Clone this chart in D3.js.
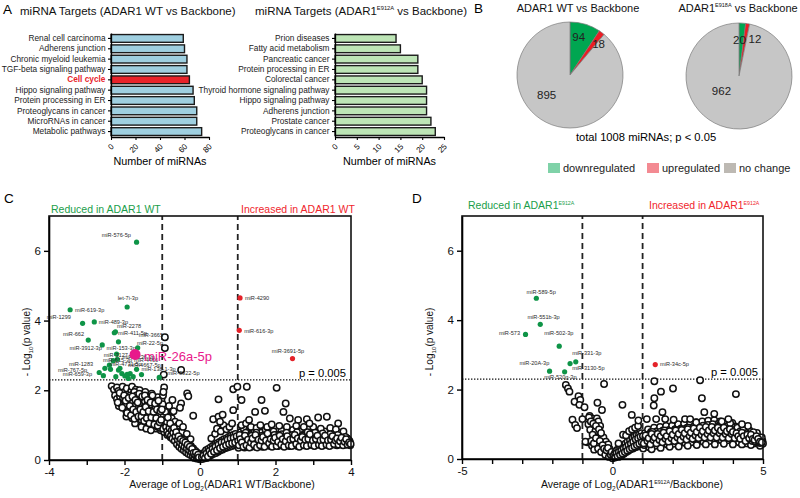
<!DOCTYPE html>
<html><head><meta charset="utf-8">
<script src="https://cdn.jsdelivr.net/npm/d3@7"></script>
<style>body{margin:0;background:#fff}svg{font-family:"Liberation Sans",Arial,Helvetica,sans-serif}</style>
</head><body><svg id="c" width="800" height="498"></svg>
<script>
// ---------- DATA ----------
const wtPathways = ["Renal cell carcinoma","Adherens junction","Chronic myeloid leukemia","TGF-beta signaling pathway","Cell cycle","Hippo signaling pathway","Protein processing in ER","Proteoglycans in cancer","MicroRNAs in cancer","Metabolic pathways"];
const wtCounts = [59,60,62,62,64,67,68,70,70,74];
const wtHighlight = "Cell cycle";
const wtTicks = [0,20,40,60,80];
const mutPathways = ["Prion diseases","Fatty acid metabolism","Pancreatic cancer","Protein processing in ER","Colorectal cancer","Thyroid hormone signaling pathway","Hippo signaling pathway","Adherens junction","Prostate cancer","Proteoglycans in cancer"];
const mutCounts = [14,15,19,19,20,21,21,21,22,23];
const mutTicks = [0,5,10,15,20,25];

const pieCategories = ["downregulated","upregulated","no change"];
const pieWT = [94,18,895];
const pieMut = [20,12,962];

const openC = [[-2.34,2.12],[-2.28,2.02],[-2.2,2.08],[-2.16,1.98],[-2.1,1.9],[-2.05,2.1],[-2.0,1.95],[-1.97,1.82],[-1.94,2.05],[-1.9,1.88],[-1.86,1.75],[-1.82,1.98],[-1.8,2.1],[-1.76,1.9],[-1.72,1.78],[-1.7,2.02],[-1.66,1.92],[-1.62,1.82],[-1.6,2.0],[-1.56,1.7],[-1.52,1.88],[-1.48,1.78],[-1.45,1.95],[-1.42,1.65],[-1.38,1.82],[-1.35,1.72],[-1.3,1.6],[-1.28,1.9],[-1.24,1.75],[-1.2,1.55],[-1.16,1.68],[-1.12,1.8],[-1.08,1.5],[-1.05,1.62],[-1.02,1.72],[-0.98,1.85],[-0.95,2.08],[-0.97,1.95],
[-2.02,1.62],[-1.98,1.52],[-1.95,1.4],[-1.9,1.55],[-1.88,1.3],[-1.85,1.45],[-1.82,1.6],[-1.8,1.2],[-1.78,1.35],[-1.75,1.5],[-1.73,1.65],[-1.7,1.15],[-1.68,1.28],[-1.66,1.42],[-1.64,1.56],[-1.6,1.1],[-1.58,1.22],[-1.56,1.35],[-1.54,1.48],[-1.5,1.6],[-1.5,1.05],[-1.47,1.18],[-1.45,1.3],[-1.43,1.42],[-1.4,1.55],[-1.38,1.0],[-1.36,1.12],[-1.34,1.25],[-1.32,1.38],[-1.3,1.48],[-1.27,0.95],[-1.25,1.05],[-1.23,1.18],[-1.21,1.3],[-1.19,1.42],[-1.15,0.9],[-1.13,1.0],[-1.11,1.12],[-1.09,1.25],[-1.07,1.38],[-1.04,0.85],[-1.02,0.98],[-1.0,1.1],[-1.0,1.22],[-0.99,1.35],[-0.97,1.45],[-1.62,1.7],[-1.9,1.65],[-2.1,1.7],[-2.15,1.55],[-1.95,1.25],[-1.72,1.05],[-1.55,0.95],[-1.42,0.9],[-1.3,0.85],
[-0.95,0.8],[-0.93,0.92],[-0.92,1.05],[-0.9,1.18],[-0.88,1.3],[-0.86,0.72],[-0.85,0.85],[-0.83,0.98],[-0.81,1.1],[-0.8,1.22],[-0.78,0.65],[-0.76,0.78],[-0.74,0.9],[-0.72,1.02],[-0.7,0.58],[-0.68,0.7],[-0.66,0.82],[-0.64,0.95],[-0.62,0.5],[-0.6,0.62],[-0.58,0.75],[-0.56,0.88],[-0.54,0.42],[-0.52,0.55],[-0.5,0.68],[-0.48,0.8],[-0.46,0.36],[-0.44,0.48],[-0.42,0.6],[-0.4,0.3],[-0.38,0.42],[-0.36,0.54],[-0.34,0.25],[-0.32,0.36],[-0.3,0.47],[-0.28,0.2],[-0.26,0.3],[-0.24,0.4],[-0.22,0.15],[-0.2,0.24],[-0.18,0.33],[-0.16,0.1],[-0.14,0.18],[-0.12,0.26],[-0.1,0.07],[-0.08,0.14],[-0.06,0.2],[-0.04,0.04],[-0.02,0.1],[0.0,0.02],[-0.88,1.45],[-0.82,1.55],[-0.75,1.2],[-0.7,1.4],[-0.66,1.1],[-0.6,0.98],[-0.55,1.05],[-0.5,1.62],[-0.45,0.95],[-0.73,1.72],[-0.53,1.5],[-0.34,1.91],[-0.31,1.83],[-0.18,1.27],[-0.5,2.58],[-0.35,0.75],[-0.25,0.6],[-0.93,3.52],[-0.93,3.21],[-0.96,2.45],
[0.02,0.05],[0.04,0.12],[0.06,0.03],[0.08,0.18],[0.1,0.08],[0.12,0.22],[0.14,0.12],[0.16,0.28],[0.18,0.06],[0.2,0.16],[0.22,0.32],[0.24,0.1],[0.26,0.22],[0.28,0.36],[0.3,0.14],[0.32,0.26],[0.34,0.4],[0.36,0.18],[0.38,0.3],[0.4,0.44],[0.42,0.2],[0.44,0.34],[0.46,0.48],[0.48,0.24],[0.5,0.38],[0.52,0.52],[0.54,0.28],[0.56,0.42],[0.58,0.56],[0.6,0.3],[0.62,0.45],[0.64,0.6],[0.66,0.34],[0.68,0.48],[0.7,0.62],[0.72,0.36],[0.74,0.52],[0.76,0.66],[0.78,0.38],[0.8,0.54],[0.82,0.7],[0.84,0.4],[0.86,0.56],[0.88,0.72],[0.9,0.42],[0.92,0.58],[0.94,0.75],[0.96,0.44],[0.98,0.6],[0.3,0.62],[0.4,0.75],[0.45,0.9],[0.55,0.82],[0.62,1.0],[0.7,0.88],[0.78,0.95],[0.85,1.05],[0.35,1.17],[0.49,1.24],[0.53,1.1],[0.49,1.74],[0.88,1.43],[0.88,2.03],[0.99,2.1],
[1.02,0.35],[1.04,0.5],[1.06,0.65],[1.08,0.8],[1.1,0.42],[1.12,0.58],[1.14,0.72],[1.16,0.9],[1.18,0.36],[1.2,0.5],[1.22,0.66],[1.25,0.8],[1.28,0.44],[1.3,0.6],[1.33,0.74],[1.36,0.38],[1.38,0.52],[1.41,0.68],[1.44,0.84],[1.47,0.4],[1.5,0.56],[1.53,0.7],[1.56,0.46],[1.59,0.62],[1.62,0.78],[1.65,0.38],[1.68,0.54],[1.71,0.68],[1.74,0.86],[1.77,0.44],[1.8,0.6],[1.83,0.74],[1.86,0.4],[1.89,0.52],[1.92,0.66],[1.95,0.82],[1.98,0.45],[2.01,0.58],[2.04,0.72],[2.07,0.4],[2.1,0.55],[2.13,0.68],[2.16,0.84],[2.19,0.42],[2.22,0.56],[2.25,0.7],[2.28,0.46],[2.31,0.6],[2.34,0.76],[2.37,0.4],[2.4,0.52],[2.43,0.66],[2.46,0.86],[2.49,0.44],[2.52,0.58],[2.55,0.72],[2.58,0.4],[2.61,0.54],[2.64,0.68],[2.67,0.82],[2.7,0.45],[2.73,0.6],[2.76,0.74],[2.79,0.42],[2.82,0.56],[2.85,0.7],[2.88,0.9],[2.91,0.44],[2.94,0.58],[2.97,0.72],[3.0,0.42],[3.03,0.55],[3.06,0.68],[3.09,0.84],[3.12,0.45],[3.15,0.58],[3.18,0.72],[3.21,0.42],[3.24,0.55],[3.27,0.68],[3.3,0.82],[3.33,0.44],[3.36,0.58],[3.39,0.7],[3.42,0.42],[3.45,0.55],[3.48,0.66],[3.51,0.8],[3.54,0.44],[3.57,0.56],[3.6,0.68],[3.63,0.42],[3.66,0.54],[3.69,0.64],[3.72,0.78],[3.75,0.45],[3.78,0.56],[3.81,0.66],[3.84,0.44],[3.87,0.54],[3.9,0.62],[3.93,0.45],[3.96,0.55],[3.98,0.42],
[1.1,1.72],[1.63,1.72],[1.24,2.1],[2.03,2.07],[1.46,1.38],[1.72,1.41],[2.21,1.38],[2.27,1.62],[2.38,1.19],[2.6,1.15],[2.83,1.17],[3.13,1.22],[3.36,1.24],[3.66,1.05],[3.89,0.62],[1.1,1.0],[1.22,1.05],[1.35,0.95],[1.5,0.92],[1.6,1.0],[1.78,0.95],[1.9,1.02],[2.1,0.98],[2.3,0.95],[2.55,0.98],[2.75,0.95],[3.0,0.95],[3.2,0.9],[3.45,0.92],[3.6,0.88],[3.8,0.82],[0.6,1.3],[1.3,1.15],[2.9,1.05],
[-2.25,1.85],[-2.2,1.75],[-2.12,1.82],[-2.08,1.6],[-2.04,1.78],[-1.99,1.68],[-1.96,1.58],[-1.92,1.72],[-1.88,1.45],[-1.84,1.85],[-1.82,1.38],[-1.78,1.68],[-1.76,1.25],[-1.74,1.95],[-1.7,1.58],[-1.68,1.85],[-1.66,1.2],[-1.63,1.48],[-1.61,1.35],[-1.59,1.78],[-1.57,1.6],[-1.55,1.15],[-1.53,1.42],[-1.51,1.75],[-1.49,1.28],[-1.47,1.52],[-1.46,1.68],[-1.44,1.12],[-1.41,1.35],[-1.39,1.6],[-1.37,1.48],[-1.35,1.2],[-1.33,1.72],[-1.31,1.08],[-1.29,1.32],[-1.27,1.55],[-1.26,1.42],[-1.24,1.65],[-1.22,1.1],[-1.2,1.25],[-1.18,1.5],[-1.17,1.0],[-1.15,1.35],[-1.13,1.6],[-1.11,0.95],[-1.1,1.45],[-1.08,1.15],[-1.06,1.3],[-1.05,0.92],[-1.03,1.5],[-1.01,1.05],[-0.99,1.6],[-0.98,0.9],[-0.96,1.28],[-0.94,1.15],[-0.92,1.38],[-0.9,0.95],[-0.88,1.1],[-0.87,0.82],[-0.85,1.22],[-0.83,0.75],[-0.81,0.92],[-0.79,1.05],[-0.77,0.7],[-0.75,0.85],[-0.73,0.62],[-0.71,0.78],[-0.69,0.92],[-0.67,0.55],[-0.65,0.68],[-0.63,0.8],[-0.61,0.45],[-0.59,0.58],[-0.57,0.68],[-0.55,0.38],[-0.53,0.5],[-0.51,0.6],[-0.49,0.32],[-0.47,0.44],[-0.45,0.55],[-0.43,0.28],[-0.41,0.38],[-0.39,0.5],[-0.37,0.22],[-0.35,0.34],[-0.33,0.44],[-0.31,0.18],[-0.29,0.28],[-0.27,0.38],[-0.25,0.14],[-0.23,0.24],[-0.21,0.32],[-0.19,0.1],[-0.17,0.2],[-0.15,0.06],[-0.13,0.14],[-0.11,0.22],[-0.09,0.04],[-0.07,0.1],[-0.05,0.15],[-0.03,0.07],
[0.05,0.08],[0.09,0.12],[0.13,0.05],[0.17,0.18],[0.21,0.1],[0.25,0.26],[0.29,0.18],[0.33,0.32],[0.37,0.24],[0.41,0.38],[0.45,0.28],[0.49,0.44],[0.53,0.34],[0.57,0.5],[0.61,0.38],[0.65,0.52],[0.69,0.42],[0.73,0.58],[0.77,0.46],[0.81,0.62],[0.85,0.48],[0.89,0.64],[0.93,0.5],[0.97,0.68],[1.01,0.55],[1.05,0.72],[1.09,0.58],[1.13,0.45],[1.17,0.62],[1.21,0.78],[1.25,0.48],[1.29,0.68],[1.33,0.52],[1.37,0.7],[1.41,0.48],[1.45,0.64],[1.49,0.78],[1.53,0.5],[1.57,0.66],[1.61,0.48],[1.65,0.7],[1.69,0.6],[1.73,0.46],[1.77,0.66],[1.81,0.52],[1.85,0.7],[1.89,0.44],[1.93,0.58],[1.97,0.72],[2.01,0.5],[2.05,0.66],[2.09,0.46],[2.13,0.6],[2.17,0.74],[2.21,0.5],[2.25,0.62],[2.29,0.78],[2.33,0.48],[2.37,0.64],[2.41,0.56],[2.45,0.72],[2.49,0.5],[2.53,0.66],[2.57,0.8],[2.61,0.46],[2.65,0.62],[2.69,0.55],[2.73,0.7],[2.77,0.5],[2.81,0.64],[2.85,0.8],[2.89,0.52],[2.93,0.66],[2.97,0.5],[3.01,0.62],[3.05,0.78],[3.09,0.52],[3.13,0.66],[3.17,0.5],[3.21,0.62],[3.25,0.76],[3.29,0.5],[3.33,0.64],[3.37,0.5],[3.41,0.62],[3.45,0.74],[3.49,0.5],[3.53,0.62],[3.57,0.48],[3.61,0.6],[3.65,0.72],[3.69,0.5],[3.73,0.6],[3.77,0.48],[3.81,0.58],[3.85,0.66],[3.89,0.48],[3.93,0.58],[3.97,0.5]];
const openC2 = [[1.03,0.42],[1.07,0.6],[1.11,0.5],[1.15,0.38],[1.19,0.7],[1.23,0.42],[1.27,0.58],[1.31,0.36],[1.35,0.5],[1.39,0.62],[1.43,0.44],[1.47,0.72],[1.51,0.36],[1.55,0.58],[1.59,0.42],[1.63,0.56],[1.67,0.66],[1.71,0.38],[1.75,0.56],[1.79,0.76],[1.83,0.48],[1.87,0.6],[1.91,0.38],[1.95,0.56],[1.99,0.64],[2.03,0.4],[2.07,0.52],[2.11,0.7],[2.15,0.44],[2.19,0.6],[2.23,0.38],[2.27,0.54],[2.31,0.68],[2.35,0.42],[2.39,0.58],[2.43,0.4],[2.47,0.6],[2.51,0.72],[2.55,0.46],[2.59,0.62],[2.63,0.38],[2.67,0.56],[2.71,0.66],[2.75,0.42],[2.79,0.58],[2.83,0.4],[2.87,0.6],[2.91,0.74],[2.95,0.44],[2.99,0.56],[3.03,0.4],[3.07,0.6],[3.11,0.7],[3.15,0.44],[3.19,0.56],[3.23,0.4],[3.27,0.58],[3.31,0.7],[3.35,0.44],[3.39,0.56],[3.43,0.4],[3.47,0.58],[3.51,0.68],[3.55,0.46],[3.59,0.56],[3.63,0.62],[3.67,0.44],[3.71,0.54],[3.75,0.64],[3.79,0.42],[3.83,0.52],[3.87,0.6],[3.91,0.44],[3.95,0.5],[3.99,0.46],
[-2.18,1.65],[-2.13,1.92],[-2.06,1.5],[-2.01,1.85],[-1.97,1.7],[-1.93,1.35],[-1.89,1.78],[-1.86,1.55],[-1.83,1.28],[-1.79,1.82],[-1.77,1.45],[-1.74,1.18],[-1.71,1.72],[-1.69,1.38],[-1.65,1.65],[-1.63,1.25],[-1.61,1.9],[-1.58,1.45],[-1.55,1.25],[-1.53,1.82],[-1.5,1.38],[-1.48,1.12],[-1.46,1.85],[-1.44,1.52],[-1.41,1.2],[-1.39,1.72],[-1.36,1.4],[-1.34,1.05],[-1.31,1.65],[-1.29,1.22],[-1.26,1.85],[-1.23,1.38],[-1.21,1.02],[-1.19,1.62],[-1.16,1.2],[-1.14,1.45],[-1.12,0.98],[-1.1,1.7],[-1.07,1.08],[-1.05,1.4],[-1.03,1.15],[-1.01,1.45]];
const downC = [[-1.68,6.25],[-1.93,4.39],[-3.44,4.31],[-3.11,3.92],[-2.80,3.96],[-2.27,3.65],[-2.24,3.68],[-2.96,3.44],[-2.16,3.39],[-2.59,3.30],[-1.65,3.22],[-2.21,3.04],[-2.19,2.89],[-2.67,2.51],[-2.52,2.63],[-2.56,2.42],[-2.37,2.60],[-2.16,2.58],[-2.07,2.48],[-1.99,2.41],[-1.85,2.48],[-1.77,2.39],[-1.90,2.34],[-1.68,2.60],[-1.08,2.37],[-2.40,2.72],[-2.12,2.63],[-1.93,2.46],[-2.23,2.39],[-1.55,2.45],[-2.3,2.85]];
const upC = [[1.06,4.65],[1.04,3.72],[2.45,2.91]];
const highlightC = {name:"miR-26a-5p", x:-1.72, y:3.03};
const labelsC = [["miR-576-5p",-1.83,6.39,"end"],["let-7i-3p",-1.91,4.58,"middle"],["miR-619-3p",-3.31,4.24,"start"],["miR-1299",-3.42,4.04,"end"],["miR-489-3p",-2.68,3.90,"start"],["miR-2278",-2.20,3.78,"start"],["miR-411-5p",-2.17,3.58,"start"],["miR-662",-3.07,3.55,"end"],["miR-3665",-0.98,3.52,"end"],["miR-22-5p",-0.98,3.30,"end"],["miR-3912-3p",-2.60,3.15,"end"],["miR-153-3p",-1.70,3.15,"end"],["miR-3127",-2.23,2.95,"middle"],["miR-615-3p",-2.57,2.81,"start"],["miR-1236-3p",-2.05,2.9,"start"],["miR-4466",-1.75,2.82,"start"],["miR-4731-5p",-2.4,2.7,"start"],["miR-4667-5p",-1.9,2.66,"start"],["miR-138-1-3p",-1.55,2.55,"start"],["miR-3922-5p",-0.87,2.45,"start"],["miR-1283",-2.83,2.69,"end"],["miR-767-5p",-2.99,2.53,"end"],["miR-659-3p",-2.86,2.41,"end"],["miR-4290",1.19,4.58,"start"],["miR-616-3p",1.17,3.65,"start"],["miR-3691-5p",2.33,3.07,"middle"]];

const openD = [[-1.55,2.13],[-1.48,2.03],[-1.43,1.94],[-1.13,1.81],[-1.26,1.65],[-1.07,1.70],[-1.10,1.56],[-0.93,1.49],[-1.33,1.13],[-1.24,0.98],[-1.18,0.89],[-1.0,1.15],[-0.28,2.16],[-0.5,1.62],[-0.35,1.41],[-0.76,1.24],[-0.68,1.17],[-0.52,1.17],[-0.47,1.08],[-0.41,0.95],[-0.80,1.0],[-0.74,0.84],[-0.57,0.80],[-0.83,0.48],[-0.68,0.38],[-0.61,0.27],[-0.41,0.65],[-0.3,0.62],[-0.19,0.36],[-0.16,0.22],[-0.78,1.2],[-0.72,1.08],[-0.64,1.02],[-0.55,0.95],[-0.45,0.85],[-0.38,0.75],[-0.6,0.6],[-0.5,0.5],[-0.45,0.4],[-0.35,0.3],[-0.3,0.45],[-0.25,0.2],[-0.22,0.5],[-0.12,0.15],[-0.1,0.3],[-0.08,0.08],[-0.05,0.18],[-0.03,0.05],[0,0.02],[-0.66,0.7],[-0.9,0.5],[-0.2,0.4],[-0.14,0.42],
[-0.7,0.52],[-0.62,0.45],[-0.55,0.6],[-0.48,0.3],[-0.42,0.52],[-0.38,0.2],[-0.33,0.4],[-0.28,0.3],[-0.24,0.12],[-0.2,0.25],[-0.15,0.32],[-0.12,0.06],[-0.06,0.12],[-0.03,0.2],
[0.03,0.08],[0.06,0.14],[0.08,0.04],[0.1,0.2],[0.12,0.1],[0.15,0.26],[0.18,0.15],[0.2,0.06],[0.22,0.3],[0.25,0.18],[0.28,0.36],[0.3,0.1],[0.33,0.24],[0.36,0.4],[0.38,0.15],[0.4,0.3],[0.43,0.44],[0.46,0.2],[0.48,0.34],[0.5,0.5],[0.53,0.24],[0.56,0.38],[0.58,0.55],[0.6,0.28],[0.63,0.42],[0.66,0.6],[0.68,0.3],[0.7,0.46],[0.73,0.64],[0.76,0.34],[0.78,0.5],[0.8,0.68],[0.83,0.36],[0.86,0.52],[0.88,0.7],[0.9,0.4],[0.93,0.56],[0.96,0.74],[0.98,0.42],[0.35,0.7],[0.45,0.68],[0.55,0.8],[0.65,0.85],[0.75,0.9],[0.85,0.95],[0.33,1.56],[0.64,1.27],[0.86,1.11],[0.2,0.45],
[1.02,0.3],[1.05,0.52],[1.08,0.74],[1.12,0.4],[1.15,0.62],[1.18,0.85],[1.22,0.34],[1.25,0.56],[1.28,0.78],[1.32,0.45],[1.35,0.66],[1.38,0.9],[1.42,0.38],[1.45,0.58],[1.48,0.8],[1.52,0.46],[1.55,0.68],[1.58,0.92],[1.62,0.4],[1.65,0.6],[1.68,0.82],[1.72,0.5],[1.75,0.7],[1.78,0.95],[1.82,0.42],[1.85,0.62],[1.88,0.84],[1.92,0.5],[1.95,0.72],[1.98,0.96],[2.02,0.44],[2.05,0.64],[2.08,0.86],[2.12,0.52],[2.15,0.74],[2.18,1.0],[2.22,0.45],[2.25,0.66],[2.28,0.88],[2.32,0.54],[2.35,0.76],[2.38,1.02],[2.42,0.46],[2.45,0.68],[2.48,0.9],[2.52,0.55],[2.55,0.78],[2.58,1.04],[2.62,0.48],[2.65,0.7],[2.68,0.92],[2.72,0.56],[2.75,0.8],[2.78,1.06],[2.82,0.5],[2.85,0.72],[2.88,0.94],[2.92,0.58],[2.95,0.82],[2.98,1.08],[3.02,0.5],[3.05,0.72],[3.08,0.95],[3.12,0.6],[3.15,0.84],[3.18,1.1],[3.22,0.52],[3.25,0.74],[3.28,0.98],[3.32,0.62],[3.35,0.86],[3.38,1.12],[3.42,0.52],[3.45,0.76],[3.48,1.0],[3.52,0.62],[3.55,0.86],[3.58,1.08],[3.62,0.54],[3.65,0.78],[3.68,1.0],[3.72,0.62],[3.75,0.86],[3.78,1.05],[3.82,0.54],[3.85,0.76],[3.88,0.98],[3.92,0.62],[3.95,0.86],[3.98,1.04],[4.02,0.5],[4.05,0.72],[4.08,0.94],[4.12,0.6],[4.15,0.82],[4.2,0.48],[4.25,0.7],[4.3,0.88],[4.35,0.55],[4.4,0.75],[4.45,0.45],[4.5,0.65],[4.55,0.82],[4.6,0.5],[4.65,0.68],[4.7,0.45],[4.75,0.6],[4.8,0.75],[4.85,0.45],[4.9,0.58],[4.95,0.42],[4.98,0.52],[5.0,0.45],
[1.3,0.28],[1.6,0.32],[1.9,0.35],[2.2,0.36],[2.5,0.38],[2.8,0.4],[3.1,0.42],[3.4,0.42],[3.7,0.44],[4.0,0.42],[4.3,0.42],[4.6,0.4],[4.9,0.38],
[0.05,0.1],[0.09,0.06],[0.13,0.16],[0.17,0.08],[0.21,0.2],[0.25,0.12],[0.29,0.24],[0.33,0.16],[0.37,0.3],[0.41,0.2],[0.45,0.34],[0.49,0.24],[0.53,0.4],[0.57,0.28],[0.61,0.44],[0.65,0.32],[0.69,0.5],[0.73,0.36],[0.77,0.56],[0.81,0.4],[0.85,0.6],[0.89,0.44],[0.93,0.64],[0.97,0.48],[1.01,0.66],[1.05,0.4],[1.09,0.6],[1.13,0.5],[1.17,0.7],[1.21,0.45],[1.25,0.66],[1.29,0.55],[1.33,0.78],[1.37,0.48],[1.41,0.7],[1.45,0.52],[1.49,0.68],[1.53,0.58],[1.57,0.78],[1.61,0.5],[1.65,0.72],[1.69,0.56],[1.73,0.82],[1.77,0.52],[1.81,0.72],[1.85,0.58],[1.89,0.78],[1.93,0.52],[1.97,0.68],[2.01,0.6],[2.05,0.8],[2.09,0.55],[2.13,0.7],[2.17,0.6],[2.21,0.84],[2.25,0.55],[2.29,0.74],[2.33,0.62],[2.37,0.86],[2.41,0.58],[2.45,0.78],[2.49,0.64],[2.53,0.9],[2.57,0.6],[2.61,0.8],[2.65,0.66],[2.69,0.92],[2.73,0.6],[2.77,0.82],[2.81,0.68],[2.85,0.94],[2.89,0.62],[2.93,0.84],[2.97,0.7],[3.01,0.96],[3.05,0.62],[3.09,0.86],[3.13,0.72],[3.17,0.98],[3.21,0.64],[3.25,0.88],[3.29,0.72],[3.33,1.0],[3.37,0.66],[3.41,0.88],[3.45,0.7],[3.49,0.94],[3.53,0.68],[3.57,0.9],[3.61,0.74],[3.65,0.96],[3.69,0.66],[3.73,0.9],[3.77,0.72],[3.81,0.94],[3.85,0.66],[3.89,0.88],[3.93,0.72],[3.97,0.92],[4.01,0.62],[4.05,0.84],[4.1,0.7],[4.15,0.9],[4.2,0.62],[4.25,0.8],[4.3,0.66],[4.35,0.85],[4.4,0.58],[4.45,0.74],[4.5,0.56],[4.55,0.7],[4.6,0.6],[4.65,0.52],[4.7,0.64],[4.75,0.5],[4.8,0.58],[4.85,0.52],[4.9,0.46],[4.95,0.55],
[1.39,2.24],[1.39,1.75],[1.37,1.54],[1.61,1.94],[2.01,2.03],[2.91,2.27],[2.97,1.75],[4.10,1.87],[3.05,1.35],[3.38,1.30],[1.66,1.35],[1.14,1.15],[1.45,1.15],[1.75,1.15],[2.03,1.13],[2.41,1.15],[2.58,1.15],[2.78,1.05],[3.63,1.08],[3.91,1.03],[4.68,0.77],[4.96,0.62],[4.5,0.95],[4.3,1.0],[3.85,1.15]];
const openD2 = [[1.04,0.45],[1.1,0.68],[1.16,0.52],[1.2,0.6],[1.26,0.42],[1.3,0.72],[1.36,0.55],[1.4,0.62],[1.46,0.45],[1.5,0.72],[1.56,0.55],[1.6,0.66],[1.66,0.48],[1.7,0.76],[1.76,0.58],[1.8,0.66],[1.86,0.5],[1.9,0.8],[1.96,0.6],[2.0,0.7],[2.06,0.52],[2.1,0.82],[2.16,0.62],[2.2,0.72],[2.26,0.54],[2.3,0.84],[2.36,0.64],[2.4,0.74],[2.46,0.56],[2.5,0.86],[2.56,0.66],[2.6,0.76],[2.66,0.58],[2.7,0.88],[2.76,0.68],[2.8,0.78],[2.86,0.6],[2.9,0.9],[2.96,0.7],[3.0,0.8],[3.06,0.62],[3.1,0.92],[3.16,0.72],[3.2,0.82],[3.26,0.62],[3.3,0.92],[3.36,0.74],[3.4,0.82],[3.46,0.62],[3.5,0.9],[3.56,0.74],[3.6,0.82],[3.66,0.62],[3.7,0.9],[3.76,0.72],[3.8,0.8],[3.86,0.6],[3.9,0.86],[3.96,0.72],[4.0,0.78],[4.06,0.6],[4.12,0.74],[4.18,0.66],[4.24,0.58],[4.3,0.76],[4.36,0.66],[4.42,0.52],[4.48,0.7],[4.54,0.6],[4.6,0.7],[4.66,0.58],[4.72,0.55],[4.78,0.66],[4.84,0.58],[4.9,0.5],[4.96,0.48]];
const downD = [[-2.53,4.63],[-2.40,3.88],[-2.89,3.59],[-1.77,3.25],[-1.22,2.80],[-1.41,2.75],[-2.09,2.53],[-1.59,2.51]];
const upD = [[1.42,2.72]];
const labelsD = [["miR-589-5p",-2.37,4.74,"middle"],["miR-551b-3p",-2.29,4.04,"middle"],["miR-573",-3.07,3.56,"end"],["miR-502-3p",-2.27,3.56,"start"],["miR-331-3p",-1.34,2.99,"start"],["miR-20A-3p",-2.10,2.70,"end"],["miR-3130-5p",-1.34,2.56,"start"],["miR-520g-3p",-2.27,2.31,"start"],["miR-34c-5p",1.58,2.68,"start"]];
const pThreshold = 0.005;

// ---------- DRAW ----------
const svg = d3.select("#c");
const GREEN = "#0e9447", RED = "#e42229", PINK = "#e8198b";

function rich(g, x, y, parts, size, opts = {}) {
  const t = g.append("text").attr("x", x).attr("y", y).attr("font-size", size)
    .attr("fill", opts.fill || "#111").attr("text-anchor", opts.anchor || "start");
  if (opts.transform) t.attr("transform", opts.transform);
  let shift = 0;
  parts.forEach(([s, k]) => {
    const ts = t.append("tspan").text(s);
    let target = 0;
    if (k === "sup") { ts.attr("font-size", size * 0.5); target = -size * 0.42; }
    else if (k === "sub") { ts.attr("font-size", size * 0.62); target = size * 0.25; }
    if (target !== shift) { ts.attr("dy", target - shift); shift = target; }
  });
  return t;
}

[["A",3,14],["B",474,13],["C",4,203],["D",412,203]].forEach(([s,x,y]) =>
  svg.append("text").attr("x",x).attr("y",y).attr("font-size",13.5).text(s));

// Panel A bars
function bars(cats, vals, max, ticks, x0, x1, fill, hi) {
  const g = svg.append("g");
  const x = d3.scaleLinear().domain([0, max]).range([x0, x1]);
  const y = d3.scaleBand().domain(cats).range([33, 137]).paddingInner(0.25).paddingOuter(0.15);
  g.selectAll("rect").data(cats).join("rect")
    .attr("x", x(0)).attr("y", d => y(d)).attr("height", y.bandwidth())
    .attr("width", (d, i) => x(vals[i]) - x(0))
    .attr("fill", d => d === hi ? "#e8232a" : fill)
    .attr("stroke", "#1b1b1b").attr("stroke-width", 1.4);
  const ya = g.append("g").attr("transform", `translate(${x0},0)`)
    .call(d3.axisLeft(y).tickSize(3).tickSizeOuter(0).tickPadding(2.5));
  ya.selectAll("text").attr("font-size", 8.3).attr("font-family", null).attr("fill", "#222")
    .filter(d => d === hi).attr("fill", "#e8232a").attr("font-weight", "bold");
  const xa = g.append("g").attr("transform", `translate(0,137)`)
    .call(d3.axisBottom(x).tickValues(ticks).tickSize(3).tickSizeOuter(0));
  xa.selectAll("text").attr("font-size", 8).attr("font-family", null).attr("y", 0).attr("dy", "0.35em")
    .attr("text-anchor", "end").attr("transform", "translate(1,8) rotate(-45)");
  [ya, xa].forEach(a => { a.select(".domain").attr("stroke-width", 1.3); a.selectAll("line").attr("stroke-width", 1.1); });
  g.append("text").attr("x", (x0 + x1) / 2).attr("y", 165).attr("text-anchor", "middle").attr("font-size", 10.8).text("Number of miRNAs");
}
rich(svg, 20, 15, [["miRNA Targets (ADAR1 WT vs Backbone)"]], 11.5);
rich(svg, 255, 15, [["miRNA Targets (ADAR1"],["E912A","sup"],[" vs Backbone)"]], 11.5);
bars(wtPathways, wtCounts, 80, wtTicks, 111, 209, "#9fcfe0", wtHighlight);
bars(mutPathways, mutCounts, 25, mutTicks, 335, 444, "#bde5b6", null);

// Panel B pies
const pieColors = ["#00a651", "#ec1c24", "#c6c6c6"];
function pie(vals, cx, cy, r, tx, titleParts, labelPos) {
  const g = svg.append("g").attr("transform", `translate(${cx},${cy})`);
  const arcs = d3.pie().sort(null).value(d => d)(vals);
  const arc = d3.arc().innerRadius(0).outerRadius(r);
  g.selectAll("path").data(arcs).join("path").attr("d", arc)
    .attr("fill", (d, i) => pieColors[i]).attr("stroke", "#7a7a7a").attr("stroke-width", 0.7);
  arcs.forEach((a, i) => {
    const ang = (a.startAngle + a.endAngle) / 2 + labelPos[i][0] * Math.PI / 180;
    const rr = labelPos[i][1];
    g.append("text").attr("x", rr * Math.sin(ang)).attr("y", -rr * Math.cos(ang))
      .attr("text-anchor", "middle").attr("dominant-baseline", "central")
      .attr("font-size", 11.5).attr("fill", "#222").text(vals[i]);
  });
  rich(svg, tx, 12, titleParts, 11, { anchor: "middle" });
}
pie(pieWT, 570, 75, 53, 578, [["ADAR1 WT vs Backbone"]], [[-4, 39], [6, 42], [29, 31]]);
pie(pieMut, 739, 76, 53, 738, [["ADAR1"],["E918A","sup"],[" vs Backbone"]], [[-3, 36], [14, 40], [44, 23]]);
svg.append("text").attr("x", 646).attr("y", 141).attr("text-anchor", "middle").attr("font-size", 11.2).text("total 1008 miRNAs; p < 0.05");
const legColors = ["#7fd2a8", "#f38a92", "#bdb9b3"];
const legX = [548, 647, 724];
pieCategories.forEach((c, i) => {
  svg.append("rect").attr("x", legX[i]).attr("y", 163).attr("width", 12).attr("height", 10).attr("fill", legColors[i]);
  svg.append("text").attr("x", legX[i] + 15).attr("y", 172).attr("font-size", 11).attr("fill", "#222").text(c);
});

// Volcano plots
function volcano(o) {
  const g = svg.append("g");
  const x = d3.scaleLinear().domain(o.xd).range(o.xr);
  const y = d3.scaleLinear().domain([0, 7]).range(o.yr);
  const py = -Math.log10(pThreshold);
  [-1, 1].forEach(v => g.append("line").attr("x1", x(v)).attr("x2", x(v)).attr("y1", y(0)).attr("y2", y(7))
    .attr("stroke", "#222").attr("stroke-width", 1.8).attr("stroke-dasharray", "6,4"));
  g.append("line").attr("x1", x(o.xd[0])).attr("x2", x(o.xd[1])).attr("y1", y(py)).attr("y2", y(py))
    .attr("stroke", "#111").attr("stroke-width", 1.2).attr("stroke-dasharray", "1.4,1.6");
  g.append("text").attr("x", x(o.xd[1]) - 5).attr("y", y(py) - 3).attr("text-anchor", "end").attr("font-size", 11.2).text("p = 0.005");
  g.append("g").selectAll("circle").data(o.open).join("circle")
    .attr("cx", d => x(d[0])).attr("cy", d => y(d[1])).attr("r", 3.2)
    .attr("fill", "#fff").attr("stroke", "#111").attr("stroke-width", 1.5);
  g.append("g").selectAll("circle").data(o.down).join("circle")
    .attr("cx", d => x(d[0])).attr("cy", d => y(d[1])).attr("r", 2.6).attr("fill", GREEN);
  g.append("g").selectAll("circle").data(o.up).join("circle")
    .attr("cx", d => x(d[0])).attr("cy", d => y(d[1])).attr("r", 2.6).attr("fill", RED);
  g.append("g").selectAll("text").data(o.labels).join("text")
    .attr("x", d => x(d[1])).attr("y", d => y(d[2])).attr("text-anchor", d => d[3])
    .attr("font-size", 5.6).attr("fill", "#2a2a2a").text(d => d[0]);
  if (o.hl) {
    g.append("circle").attr("cx", x(o.hl.x)).attr("cy", y(o.hl.y)).attr("r", 5.5).attr("fill", PINK);
    g.append("text").attr("x", x(o.hl.x) + 9).attr("y", y(o.hl.y) + 7).attr("font-size", 13).attr("fill", PINK).text(o.hl.name);
  }
  g.append("rect").attr("x", o.xr[0]).attr("y", o.yr[1]).attr("width", o.xr[1] - o.xr[0]).attr("height", o.yr[0] - o.yr[1])
    .attr("fill", "none").attr("stroke", "#111").attr("stroke-width", 1.6);
  const ya = g.append("g").attr("transform", `translate(${o.xr[0]},0)`)
    .call(d3.axisLeft(y).tickValues([0, 2, 4, 6]).tickSize(5).tickSizeOuter(0).tickFormat(d => String(d)));
  const xa = g.append("g").attr("transform", `translate(0,${o.yr[0]})`)
    .call(d3.axisBottom(x).tickValues(d3.range(o.xd[0], o.xd[1] + 1)).tickSize(5).tickSizeOuter(0)
      .tickFormat(d => o.xlab.includes(d) ? String(d) : ""));
  [ya, xa].forEach(a => {
    a.select(".domain").attr("stroke-width", 1.6);
    a.selectAll("line").attr("stroke-width", 1.4);
    a.selectAll("text").attr("font-size", 11.5).attr("font-family", null).attr("fill", "#111");
  });
  rich(g, 0, 0, [["- Log"], ["10", "sub"], ["(p value)"]], 10, { anchor: "middle", transform: `translate(${o.ylx},342) rotate(-90)` });
  rich(g, o.xlX, 488, o.xTitle, 10.5, { anchor: "middle" });
  rich(g, o.redX, o.titleY, o.redTitle, 10.5, { fill: "#1a9e4a" });
  rich(g, o.incX, o.titleY, o.incTitle, 10.5, { fill: "#f0262d" });
}
volcano({ xd: [-4, 4], xr: [49, 351], yr: [460, 216], xlab: [-4, -2, 0, 2, 4], open: openC.concat(openC2), down: downC, up: upC,
  labels: labelsC, hl: highlightC, ylx: 30, xlX: 222,
  xTitle: [["Average of Log"], ["2", "sub"], ["(ADAR1 WT/Backbone)"]],
  redX: 51, incX: 241, titleY: 213,
  redTitle: [["Reduced in ADAR1 WT"]], incTitle: [["Increased in ADAR1 WT"]] });
volcano({ xd: [-5, 5], xr: [462, 763], yr: [459, 216], xlab: [-5, 0, 5], open: openD.concat(openD2), down: downD, up: upD,
  labels: labelsD, hl: null, ylx: 433, xlX: 632,
  xTitle: [["Average of Log"], ["2", "sub"], ["(ADAR1"], ["E912A", "sup"], ["/Backbone)"]],
  redX: 468, incX: 649, titleY: 209,
  redTitle: [["Reduced in ADAR1"], ["E912A", "sup"]], incTitle: [["Increased in ADAR1"], ["E912A", "sup"]] });
</script></body></html>
